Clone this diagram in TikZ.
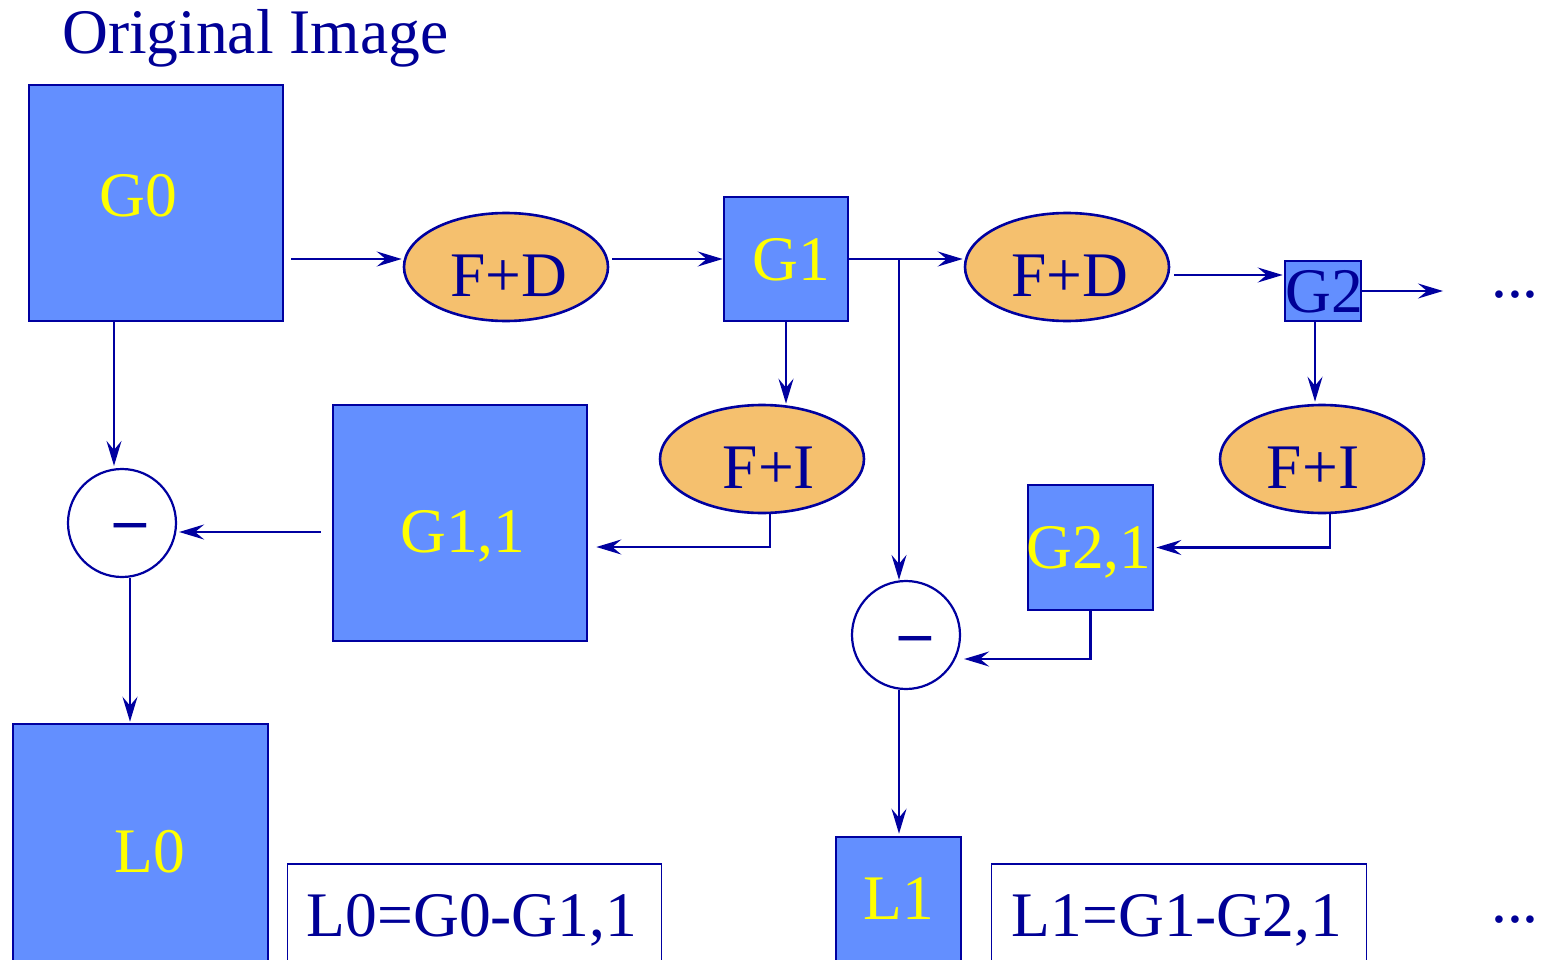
\documentclass[tikz,border=0pt]{standalone}
\usepackage{fontspec}
\setmainfont{Liberation Serif}
\usetikzlibrary{arrows.meta,shapes.geometric}
\definecolor{dblue}{RGB}{0,0,160}
\definecolor{txtblue}{RGB}{0,0,150}
\definecolor{boxblue}{RGB}{99,143,255}
\definecolor{procorange}{RGB}{245,192,110}
\definecolor{lblyellow}{RGB}{255,255,0}
\newcommand{\bigfont}{\fontsize{63.5pt}{76pt}\selectfont}
\begin{document}
\begin{tikzpicture}[x=1pt,y=-1pt,
  imgbox/.style={draw=dblue,line width=2.6pt,fill=boxblue,inner sep=0pt},
  proc/.style={ellipse,draw=dblue,line width=2.6pt,fill=procorange,inner sep=0pt,minimum width=204pt,minimum height=108pt},
  subtr/.style={ellipse,draw=dblue,line width=2.2pt,fill=white,inner sep=0pt,minimum width=108pt,minimum height=108pt},
  eqbox/.style={draw=dblue,line width=1.6pt,fill=white,inner sep=0pt},
  ylab/.style={font=\bigfont,text=lblyellow,anchor=base,inner sep=0pt},
  blab/.style={font=\bigfont,text=txtblue,anchor=base,inner sep=0pt},
  arr/.style={draw=dblue,line width=2.2pt,-{Stealth[length=25pt,width=15pt,inset=9pt]}}]
\useasboundingbox (0,0) rectangle (1541,960);

% title
\node[blab,anchor=base west] (title) at (62,54) {Original Image};

% image boxes
\node[imgbox,minimum width=254pt,minimum height=236pt] (G0) at (156,203) {};
\node[imgbox,minimum width=124pt,minimum height=124pt] (G1) at (786,259) {};
\node[imgbox,minimum width=76pt,minimum height=60pt] (G2) at (1323,291) {};
\node[imgbox,minimum width=254pt,minimum height=236pt] (G11) at (460,523) {};
\node[imgbox,minimum width=125pt,minimum height=125pt] (G21) at (1090.5,547.5) {};
\node[imgbox,minimum width=255pt,minimum height=238pt] (L0) at (140.5,843) {};
\node[imgbox,minimum width=125pt,minimum height=125pt] (L1) at (898.5,899.5) {};

% process ellipses
\node[proc] (FD1) at (506,267) {};
\node[proc] (FD2) at (1067,267) {};
\node[proc] (FI1) at (762,459) {};
\node[proc] (FI2) at (1322,459) {};

% subtraction circles
\node[subtr] (M1) at (122,523) {};
\node[subtr] (M2) at (906,635) {};

% equation boxes
\node[eqbox,minimum width=374pt,minimum height=110pt] (E0) at (474.5,919) {};
\node[eqbox,minimum width=375pt,minimum height=110pt] (E1) at (1179,919) {};

% labels
\node[ylab] (tG0) at (138,216) {G0};
\node[ylab] (tG1) at (791,280) {G1};
\node[blab] (tG2) at (1324,312) {G2};
\node[ylab] (tG11) at (463,552) {G1,1};
\node[ylab] (tG21) at (1089,568) {G2,1};
\node[ylab] (tL0) at (150,872) {L0};
\node[ylab] (tL1) at (899,919) {L1};
\node[blab] (tFD1) at (508.5,296) {F+D};
\node[blab] (tFD2) at (1070,296) {F+D};
\node[blab] (tFI1) at (769,488) {F+I};
\node[blab] (tFI2) at (1313,488) {F+I};
\node[blab] (tM1) at (130,540) {\bfseries –};
\node[blab] (tM2) at (915,653) {\bfseries –};
\node[blab] (tE0) at (472,936) {L0=G0-G1,1};
\node[blab] (tE1) at (1177,936) {L1=G1-G2,1};
\node[blab] (dots1) at (1515,297) {...};
\node[blab] (dots2) at (1515,922) {...};

% connectors
\coordinate (br) at (899,259);
\coordinate (g2out) at (1443,291);
\draw[arr] ([shift={(7,56)}]G0.east) -- ([shift={(-1,-8)}]FD1.west);
\draw[arr] ([shift={(3,-8)}]FD1.east) -- (G1.west);
\draw[arr] (G1.east) -- ([shift={(-1,-8)}]FD2.west);
\draw[arr] (br) -- (br |- M2.north);
\draw[arr] ([shift={(4,8)}]FD2.east) -- ([shift={(-1,-16)}]G2.west);
\draw[arr] (G2.east) -- (g2out);
\draw[arr] (G1.south) -- (G1.south |- FI1.north);
\draw[arr] ([shift={(8,0)}]FI1.south) |- ([shift={(8,24)}]G11.east);
\draw[arr] ([shift={(-11,9)}]G11.west) -- ([shift={(2,9)}]M1.east);
\draw[arr] ([shift={(-42,0)}]G0.south) -- ([shift={(-8,-2)}]M1.north);
\draw[arr] ([shift={(8,0)}]M1.south) -- ([shift={(-10.5,-1)}]L0.north);
\draw[arr] ([shift={(-8,0)}]G2.south) -- ([shift={(-7,-2)}]FI2.north);
\draw[arr] ([shift={(8,0)}]FI2.south) |- ([shift={(2,0)}]G21.east);
\draw[arr] (G21.south) |- ([shift={(3,24)}]M2.east);
\draw[arr] ([shift={(-7,0)}]M2.south) -- ([shift={(0.5,-2)}]L1.north);
\end{tikzpicture}
\end{document}
